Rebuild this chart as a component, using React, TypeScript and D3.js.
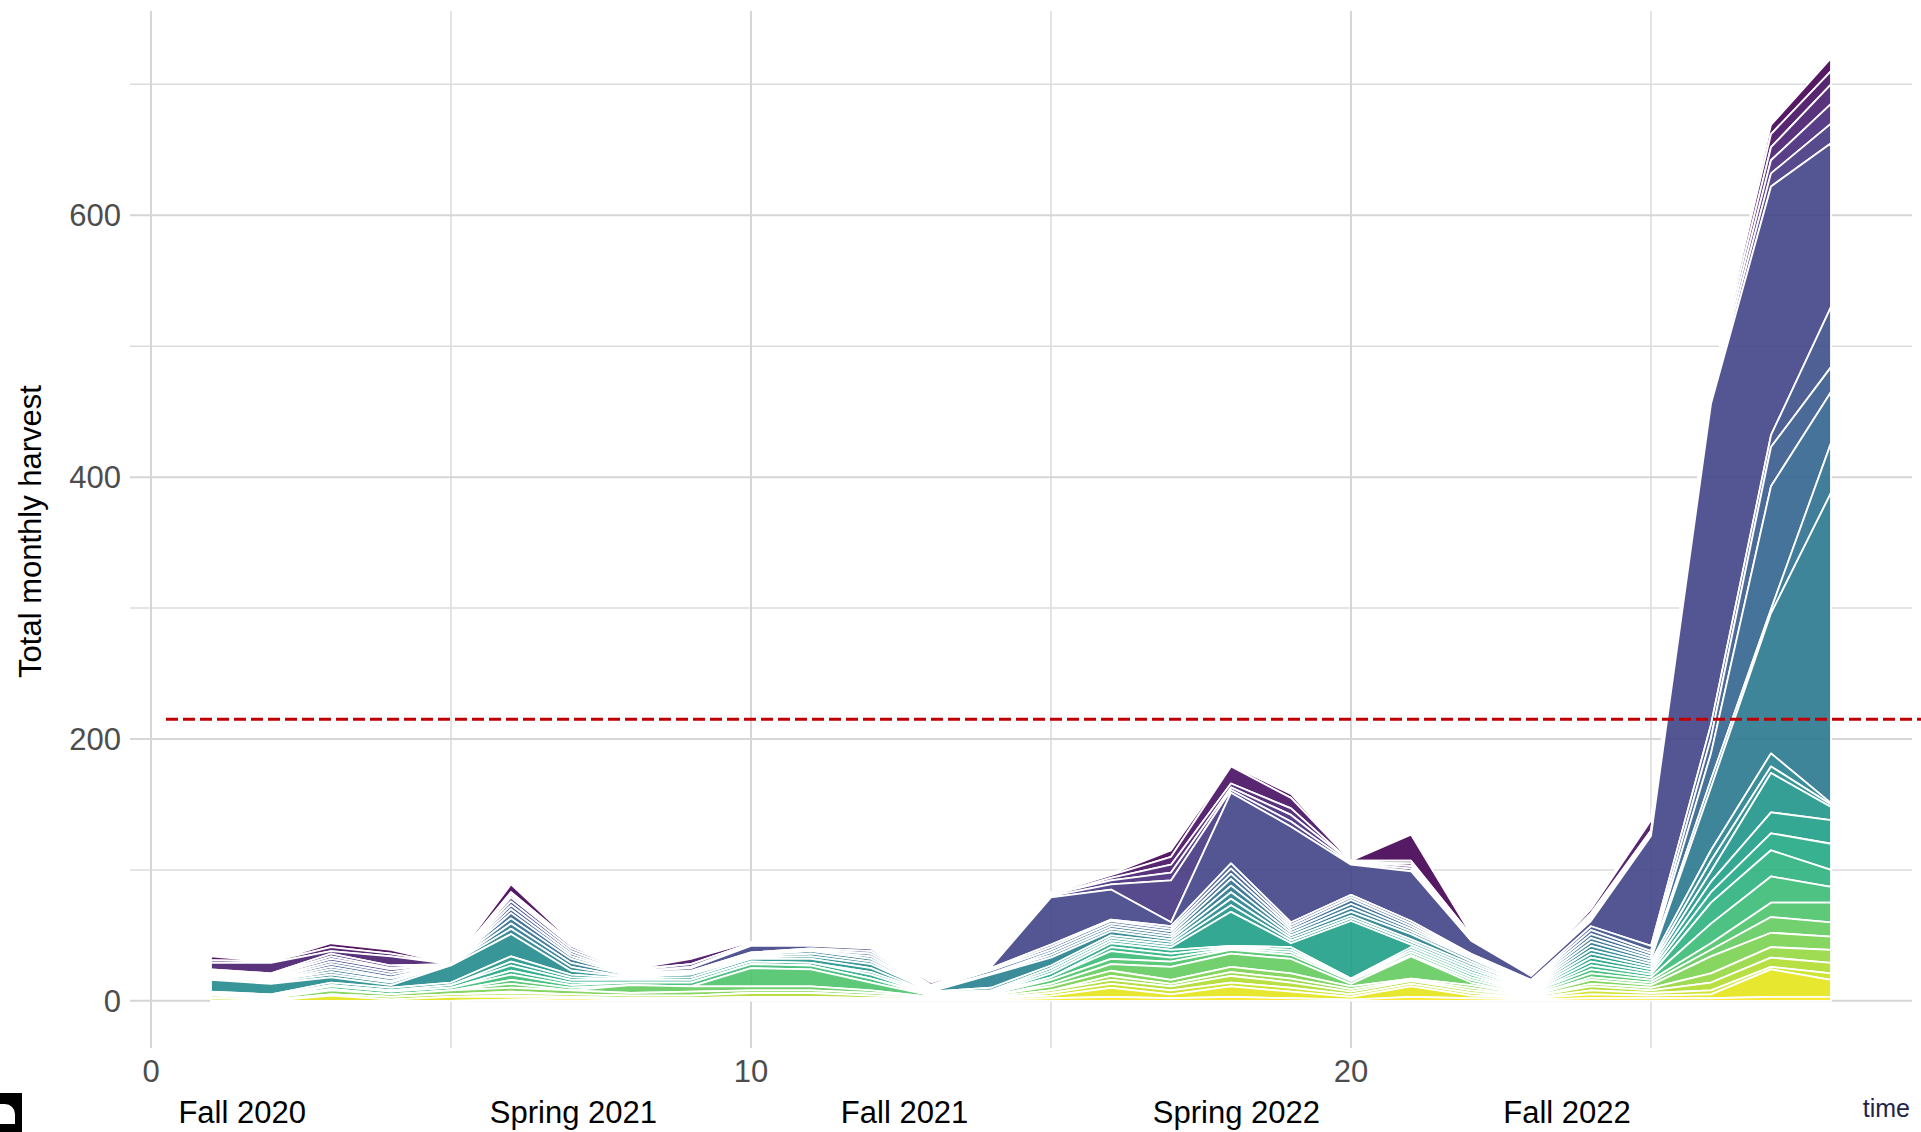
import React, { useEffect, useRef } from "react";
import * as d3 from "d3";

// months since start (x axis)
const months = [1, 2, 3, 4, 5, 6, 7, 8, 9, 10, 11, 12, 13, 14, 15, 16, 17, 18, 19, 20, 21, 22, 23, 24, 25, 26, 27, 28];

// monthly harvest per group, first group is drawn on top of the stack
const group01 = [3, 0, 3, 3, 0, 6, 1, 0, 0, 0, 1, 0, 2, 0, 1, 1, 5, 1, 3, 0, 20, 1, 1, 2, 2, 3, 7, 10];
const group02 = [2, 1, 3, 2, 0, 1, 1, 0, 4, 1, 1, 1, 0, 1, 1, 2, 6, 13, 8, 1, 2, 1, 0, 3, 8, 3, 10, 10];
const group03 = [5, 8, 2, 7, 0, 1, 1, 1, 0, 0, 0, 0, 1, 0, 0, 2, 6, 3, 5, 0, 2, 1, 1, 2, 2, 3, 10, 15];
const group04 = [1, 1, 2, 2, 0, 2, 1, 1, 2, 1, 1, 1, 0, 1, 1, 3, 6, 2, 5, 1, 2, 1, 0, 2, 1, 3, 10, 15];
const group05 = [1, 1, 2, 1, 0, 3, 2, 0, 1, 1, 1, 0, 1, 0, 1, 4, 32, 2, 4, 1, 2, 1, 1, 2, 1, 3, 10, 15];
const group06 = [1, 1, 2, 2, 0, 3, 2, 1, 2, 5, 2, 2, 0, 1, 36, 23, 3, 54, 73, 23, 38, 10, 3, 4, 84, 245, 190, 125];
const group07 = [1, 1, 2, 2, 0, 3, 2, 1, 1, 1, 1, 2, 1, 1, 2, 1, 2, 4, 2, 2, 2, 1, 1, 3, 4, 10, 9, 46];
const group08 = [1, 1, 2, 2, 0, 3, 2, 0, 0, 0, 0, 0, 0, 1, 2, 2, 2, 4, 2, 2, 2, 1, 1, 3, 2, 12, 30, 19];
const group09 = [1, 1, 2, 1, 0, 4, 2, 1, 1, 1, 1, 2, 1, 2, 2, 2, 2, 4, 2, 3, 2, 1, 1, 3, 2, 20, 94, 39];
const group10 = [0, 0, 2, 2, 0, 4, 3, 0, 0, 0, 0, 2, 0, 0, 2, 2, 2, 5, 2, 3, 2, 1, 1, 3, 2, 6, 3, 38];
const group11 = [1, 1, 2, 1, 0, 4, 3, 1, 1, 1, 2, 2, 1, 1, 2, 2, 2, 5, 2, 3, 2, 2, 1, 3, 2, 48, 107, 237];
const group12 = [1, 1, 2, 2, 1, 4, 3, 0, 0, 1, 2, 2, 0, 10, 6, 3, 2, 5, 2, 3, 4, 2, 1, 3, 2, 8, 10, 1];
const group13 = [9, 8, 4, 2, 13, 17, 3, 1, 2, 1, 2, 3, 1, 2, 2, 2, 2, 5, 2, 2, 2, 2, 1, 3, 2, 8, 5, 2];
const group14 = [1, 1, 2, 2, 2, 4, 2, 1, 2, 2, 3, 3, 0, 1, 2, 2, 2, 5, 2, 2, 2, 2, 1, 3, 2, 8, 30, 10];
const group15 = [0, 0, 0, 0, 0, 3, 2, 0, 0, 0, 0, 2, 1, 1, 2, 2, 2, 26, 3, 44, 2, 2, 1, 3, 2, 8, 16, 18];
const group16 = [1, 1, 1, 1, 2, 4, 2, 2, 2, 2, 2, 3, 0, 0, 3, 3, 3, 1, 2, 1, 2, 2, 1, 3, 2, 8, 13, 20];
const group17 = [0, 0, 0, 0, 0, 3, 2, 0, 0, 0, 0, 0, 1, 1, 0, 3, 3, 1, 2, 0, 2, 2, 0, 3, 2, 16, 20, 13];
const group18 = [0, 0, 2, 2, 2, 4, 2, 2, 3, 3, 3, 3, 0, 0, 2, 6, 3, 1, 2, 1, 2, 2, 1, 3, 2, 15, 20, 12];
const group19 = [1, 1, 0, 0, 0, 3, 2, 0, 0, 14, 13, 6, 1, 1, 3, 4, 4, 3, 3, 2, 1, 2, 1, 3, 2, 5, 11, 15];
const group20 = [0, 0, 1, 0, 0, 3, 0, 6, 4, 3, 3, 2, 0, 0, 2, 5, 10, 10, 11, 2, 17, 2, 0, 2, 2, 5, 12, 11];
const group21 = [2, 1, 3, 2, 3, 3, 3, 2, 3, 2, 2, 2, 1, 1, 3, 4, 3, 4, 4, 2, 1, 2, 1, 3, 2, 13, 11, 10];
const group22 = [0, 0, 0, 0, 0, 1, 0, 0, 0, 0, 0, 0, 0, 0, 0, 3, 2, 3, 3, 2, 1, 2, 0, 2, 2, 7, 8, 10];
const group23 = [0, 0, 1, 2, 2, 2, 2, 2, 2, 3, 3, 2, 1, 1, 2, 3, 3, 5, 4, 2, 2, 2, 1, 3, 2, 6, 7, 8];
const group24 = [2, 1, 0, 0, 0, 1, 0, 0, 0, 1, 1, 0, 0, 0, 2, 3, 3, 3, 3, 2, 2, 2, 0, 3, 2, 3, 2, 5];
const group25 = [0, 0, 4, 1, 3, 2, 1, 1, 1, 1, 1, 1, 0, 1, 2, 7, 3, 8, 5, 2, 8, 2, 1, 3, 2, 3, 21, 13];
const group26 = [0, 0, 0, 0, 0, 1, 2, 1, 1, 1, 1, 1, 1, 1, 2, 3, 2, 3, 2, 1, 3, 2, 1, 2, 2, 2, 3, 3];

const groups = [
  group01, group02, group03, group04, group05, group06, group07, group08, group09,
  group10, group11, group12, group13, group14, group15, group16, group17, group18,
  group19, group20, group21, group22, group23, group24, group25, group26,
];

const yMajor = [0, 200, 400, 600];
const yMinor = [100, 300, 500, 700];
const xMajor = [0, 10, 20];
const xMinor = [5, 15, 25];

const seasons = ["Fall 2020", "Spring 2021", "Fall 2021", "Spring 2022", "Fall 2022"];
const seasonMonths = [1.52, 7.04, 12.56, 18.09, 23.6];

const threshold = 215;
const thresholdFrom = 0.25;

const FONT = "'Liberation Sans', Arial, Helvetica, sans-serif";

const App = () => {
  const chartRef = useRef<SVGSVGElement>(null);

  useEffect(() => {
    const W = 1921;
    const H = 1132;
    const svg = d3.select(chartRef.current);
    svg.selectAll("*").remove();

    // panel box (ggplot theme_minimal look)
    const panel = { left: 130, right: 1912, top: 11, bottom: 1048 };

    const keys = groups.map((_, k) => "g" + k);
    const rows = months.map((m, i) => {
      const r: any = { month: m };
      groups.forEach((g, k) => (r["g" + k] = g[i] ?? 0));
      return r;
    });

    // last group sits at the bottom of the stack
    const stacked = d3.stack().keys(keys.slice().reverse())(rows);

    const [x0, x1] = d3.extent(months) as [number, number];
    const xPad = (x1 - x0) * 0.05;
    const x = d3.scaleLinear().domain([x0 - xPad, x1 + xPad]).range([panel.left, panel.right]);

    const yMax = d3.max(stacked[stacked.length - 1], (d) => d[1]) as number;
    const y = d3
      .scaleLinear()
      .domain([-yMax * 0.05, yMax * 1.05])
      .range([panel.bottom, panel.top]);

    // grid
    const grid = svg.append("g");
    grid
      .selectAll(".ymin")
      .data(yMinor)
      .enter()
      .append("line")
      .attr("x1", panel.left)
      .attr("x2", panel.right)
      .attr("y1", (d) => y(d))
      .attr("y2", (d) => y(d))
      .attr("stroke", "#dcdcdc")
      .attr("stroke-width", 1.6);
    grid
      .selectAll(".xmin")
      .data(xMinor)
      .enter()
      .append("line")
      .attr("y1", panel.top)
      .attr("y2", panel.bottom)
      .attr("x1", (d) => x(d))
      .attr("x2", (d) => x(d))
      .attr("stroke", "#dcdcdc")
      .attr("stroke-width", 1.6);
    grid
      .selectAll(".ymaj")
      .data(yMajor)
      .enter()
      .append("line")
      .attr("x1", panel.left)
      .attr("x2", panel.right)
      .attr("y1", (d) => y(d))
      .attr("y2", (d) => y(d))
      .attr("stroke", "#d6d6d6")
      .attr("stroke-width", 2);
    grid
      .selectAll(".xmaj")
      .data(xMajor)
      .enter()
      .append("line")
      .attr("y1", panel.top)
      .attr("y2", panel.bottom)
      .attr("x1", (d) => x(d))
      .attr("x2", (d) => x(d))
      .attr("stroke", "#d6d6d6")
      .attr("stroke-width", 2);

    // stacked areas
    const area = d3
      .area<any>()
      .x((d) => x(d.data.month))
      .y0((d) => y(d[0]))
      .y1((d) => y(d[1]));

    const colour = (key: string) => d3.interpolateViridis(keys.indexOf(key) / (keys.length - 1));

    svg
      .append("g")
      .selectAll("path")
      .data(stacked.slice().reverse())
      .enter()
      .append("path")
      .attr("d", (s: any) => area(s))
      .attr("fill", (s: any) => colour(s.key))
      .attr("fill-opacity", 0.9)
      .attr("stroke", "#ffffff")
      .attr("stroke-width", 1.8)
      .attr("stroke-linejoin", "round");

    // threshold line
    svg
      .append("line")
      .attr("x1", x(thresholdFrom))
      .attr("x2", W)
      .attr("y1", y(threshold))
      .attr("y2", y(threshold))
      .attr("stroke", "#c00000")
      .attr("stroke-width", 3)
      .attr("stroke-dasharray", "12,5");

    // y axis labels
    svg
      .append("g")
      .selectAll("text")
      .data(yMajor)
      .enter()
      .append("text")
      .attr("x", 121)
      .attr("y", (d) => y(d) + 11)
      .attr("text-anchor", "end")
      .attr("font-family", FONT)
      .attr("font-size", 31)
      .attr("fill", "#4d4d4d")
      .text((d) => d);

    // x axis labels
    svg
      .append("g")
      .selectAll("text")
      .data(xMajor)
      .enter()
      .append("text")
      .attr("x", (d) => x(d))
      .attr("y", 1082)
      .attr("text-anchor", "middle")
      .attr("font-family", FONT)
      .attr("font-size", 31)
      .attr("fill", "#4d4d4d")
      .text((d) => d);

    // season labels
    svg
      .append("g")
      .selectAll("text")
      .data(seasons)
      .enter()
      .append("text")
      .attr("x", (_, i) => x(seasonMonths[i]))
      .attr("y", 1123)
      .attr("text-anchor", "middle")
      .attr("font-family", FONT)
      .attr("font-size", 31)
      .attr("fill", "#000000")
      .text((d) => d);

    // axis title
    svg
      .append("text")
      .attr("transform", `translate(41, ${(panel.top + panel.bottom) / 2 + 2}) rotate(-90)`)
      .attr("text-anchor", "middle")
      .attr("font-family", FONT)
      .attr("font-size", 31)
      .attr("fill", "#000000")
      .text("Total monthly harvest");

    svg
      .append("text")
      .attr("x", 1910)
      .attr("y", 1117)
      .attr("text-anchor", "end")
      .attr("font-family", FONT)
      .attr("font-size", 25)
      .attr("fill", "#23234a")
      .text("time");

    // small icon in the corner
    svg.append("rect").attr("x", 0).attr("y", 1093).attr("width", 22).attr("height", 39).attr("fill", "#000");
    svg
      .append("path")
      .attr("d", "M0 1124 V1104 H5 A10 10 0 0 1 15 1114 V1124 Z")
      .attr("fill", "#fff");

    svg.attr("width", W).attr("height", H);
  }, []);

  return (
    <svg
      ref={chartRef}
      width={1921}
      height={1132}
      style={{ position: "absolute", left: 0, top: 0, display: "block", background: "#fff" }}
    />
  );
};

export default App;
